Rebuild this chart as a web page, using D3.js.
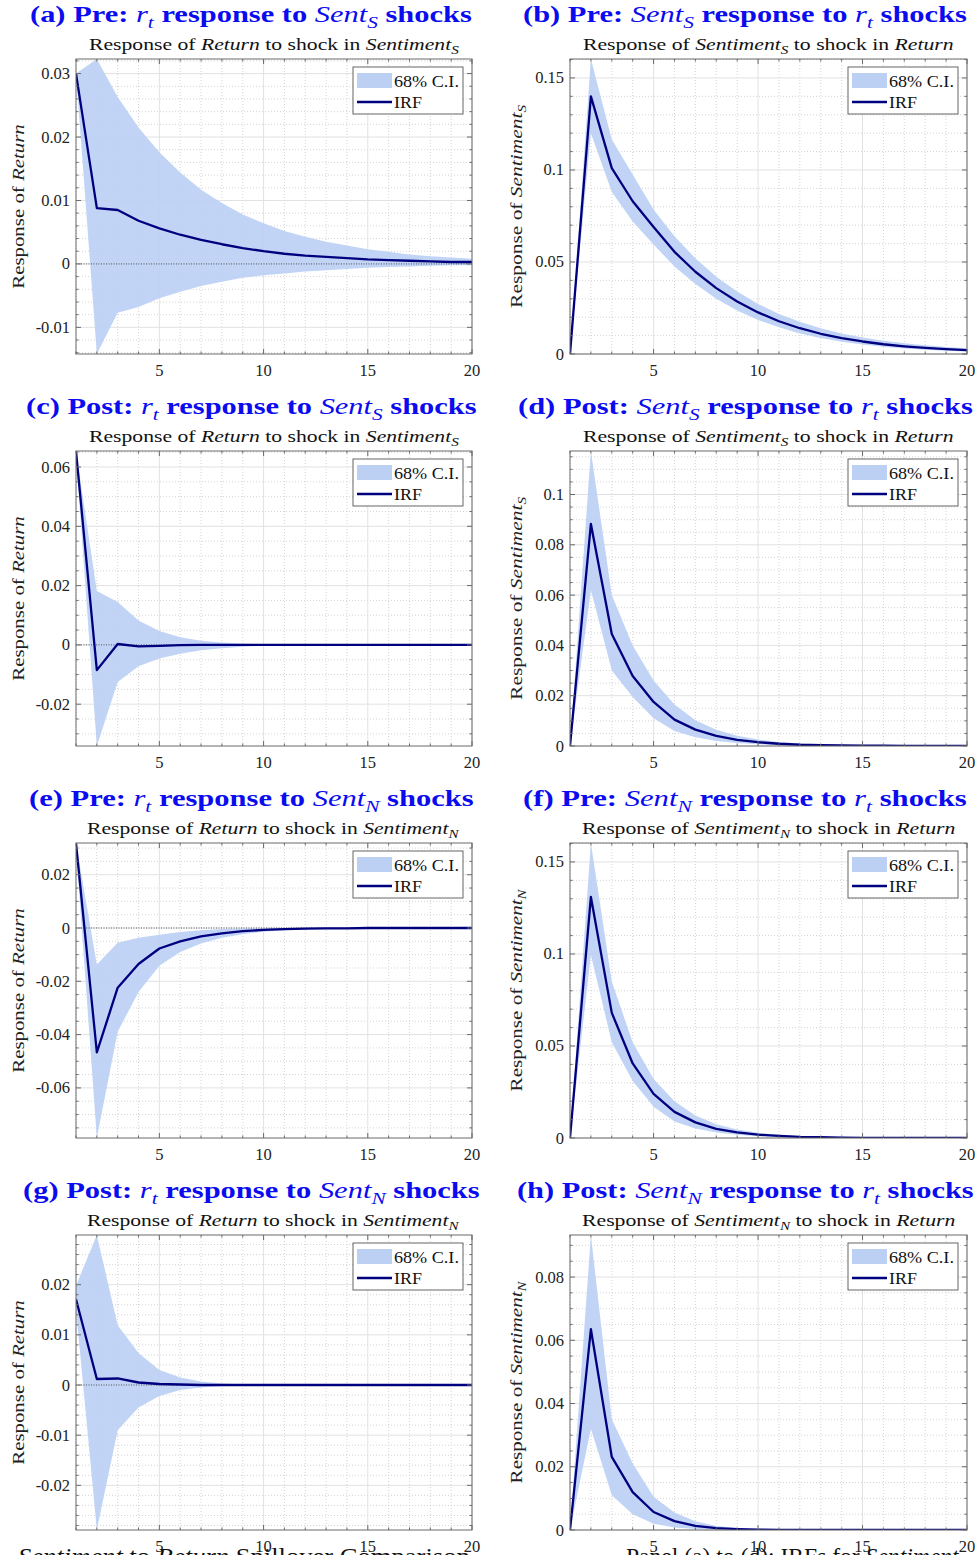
<!DOCTYPE html>
<html>
<head>
<meta charset="utf-8">
<script src="https://cdn.jsdelivr.net/npm/d3@7"></script>
<style>
  body { margin: 0; background: #fff; }
  svg { display: block; font-family: "Liberation Serif", "DejaVu Serif", serif; }
</style>
</head>
<body>
<svg id="fig" width="979" height="1555"></svg>
<script>
// horizons (periods after the shock)
const horizon = [1,2,3,4,5,6,7,8,9,10,11,12,13,14,15,16,17,18,19,20];
const xTicks = [5, 10, 15, 20];

// (a) Pre: r_t response to Sent_S shocks
const irfA = [0.0300,0.0088,0.0085,0.0068,0.0056,0.0046,0.0038,0.0031,0.0025,0.0020,0.0016,0.0013,0.0011,0.0009,0.0007,0.0006,0.0005,0.0004,0.0003,0.0003];
const hiA  = [0.0300,0.0323,0.0263,0.0215,0.0176,0.0144,0.0117,0.0096,0.0078,0.0064,0.0052,0.0043,0.0035,0.0029,0.0023,0.0019,0.0015,0.0012,0.0010,0.0008];
const loA  = [0.0300,-0.0142,-0.0077,-0.0068,-0.0054,-0.0044,-0.0035,-0.0028,-0.0022,-0.0018,-0.0015,-0.0012,-0.0010,-0.0008,-0.0006,-0.0005,-0.0004,-0.0003,-0.0002,-0.0002];
const yTicksA = [-0.01, 0, 0.01, 0.02, 0.03];

// (b) Pre: Sent_S response to r_t shocks
const irfB = [0,0.1400,0.1010,0.0830,0.0690,0.0555,0.0447,0.0358,0.0285,0.0226,0.0178,0.0140,0.0110,0.0086,0.0068,0.0053,0.0042,0.0033,0.0026,0.0021];
const hiB  = [0,0.1603,0.1165,0.0975,0.0785,0.0640,0.0520,0.0420,0.0340,0.0272,0.0218,0.0175,0.0140,0.0112,0.0090,0.0072,0.0058,0.0047,0.0038,0.0031];
const loB  = [0,0.1200,0.0880,0.0720,0.0595,0.0475,0.0380,0.0300,0.0237,0.0185,0.0145,0.0112,0.0087,0.0067,0.0051,0.0039,0.0030,0.0023,0.0017,0.0013];
const yTicksB = [0, 0.05, 0.1, 0.15];

// (c) Post: r_t response to Sent_S shocks
const irfC = [0.0654,-0.0085,0.0003,-0.0005,-0.0003,-0.0001,0,0,0,0,0,0,0,0,0,0,0,0,0,0];
const hiC  = [0.0654,0.0182,0.0145,0.0082,0.0047,0.0026,0.0014,0.0008,0.0004,0.0002,0.0001,0.0001,0,0,0,0,0,0,0,0];
const loC  = [0.0640,-0.0341,-0.0125,-0.0072,-0.0046,-0.0030,-0.0018,-0.0011,-0.0006,-0.0003,-0.0002,-0.0001,0,0,0,0,0,0,0,0];
const yTicksC = [-0.02, 0, 0.02, 0.04, 0.06];

// (d) Post: Sent_S response to r_t shocks
const irfD = [0,0.0883,0.0445,0.0278,0.0175,0.0105,0.0065,0.0040,0.0024,0.0015,0.0009,0.0005,0.0003,0.0002,0.0001,0.0001,0,0,0,0];
const hiD  = [0,0.1173,0.0600,0.0400,0.0260,0.0165,0.0102,0.0065,0.0041,0.0026,0.0016,0.0010,0.0006,0.0004,0.0002,0.0001,0.0001,0,0,0];
const loD  = [0,0.0620,0.0300,0.0195,0.0110,0.0060,0.0035,0.0020,0.0012,0.0007,0.0004,0.0002,0.0001,0.0001,0,0,0,0,0,0];
const yTicksD = [0, 0.02, 0.04, 0.06, 0.08, 0.1];

// (e) Pre: r_t response to Sent_N shocks
const irfE = [0.0319,-0.0467,-0.0224,-0.0135,-0.0077,-0.0050,-0.0031,-0.0020,-0.0012,-0.0007,-0.0004,-0.0002,-0.0001,-0.0001,0,0,0,0,0,0];
const hiE  = [0.0319,-0.0137,-0.0055,-0.0037,-0.0025,-0.0015,-0.0008,-0.0004,-0.0002,-0.0001,0,0,0,0,0,0,0,0,0,0];
const loE  = [0.0300,-0.0788,-0.0389,-0.0240,-0.0142,-0.0090,-0.0058,-0.0037,-0.0023,-0.0014,-0.0008,-0.0005,-0.0003,-0.0002,-0.0001,0,0,0,0,0];
const yTicksE = [-0.06, -0.04, -0.02, 0, 0.02];

// (f) Pre: Sent_N response to r_t shocks
const irfF = [0,0.1310,0.0680,0.0405,0.0240,0.0142,0.0085,0.0050,0.0030,0.0018,0.0011,0.0006,0.0004,0.0002,0.0001,0.0001,0,0,0,0];
const hiF  = [0,0.1603,0.0850,0.0520,0.0320,0.0200,0.0122,0.0075,0.0046,0.0028,0.0017,0.0010,0.0006,0.0004,0.0002,0.0001,0.0001,0,0,0];
const loF  = [0,0.0995,0.0520,0.0310,0.0170,0.0090,0.0052,0.0030,0.0017,0.0010,0.0005,0.0003,0.0002,0.0001,0,0,0,0,0,0];
const yTicksF = [0, 0.05, 0.1, 0.15];

// (g) Post: r_t response to Sent_N shocks
const irfG = [0.0171,0.0012,0.0013,0.0005,0.0002,0.0001,0,0,0,0,0,0,0,0,0,0,0,0,0,0];
const hiG  = [0.0198,0.0299,0.0119,0.0064,0.0030,0.0015,0.0007,0.0003,0.0001,0,0,0,0,0,0,0,0,0,0,0];
const loG  = [0.0150,-0.0289,-0.0090,-0.0045,-0.0022,-0.0010,-0.0005,-0.0002,-0.0001,0,0,0,0,0,0,0,0,0,0,0];
const yTicksG = [-0.02, -0.01, 0, 0.01, 0.02];

// (h) Post: Sent_N response to r_t shocks
const irfH = [0,0.0635,0.0231,0.0120,0.0057,0.0028,0.0013,0.0006,0.0003,0.0001,0,0,0,0,0,0,0,0,0,0];
const hiH  = [0,0.0933,0.0350,0.0210,0.0105,0.0055,0.0028,0.0013,0.0006,0.0003,0.0001,0,0,0,0,0,0,0,0,0];
const loH  = [0,0.0320,0.0110,0.0050,0.0020,0.0008,0.0003,0.0001,0,0,0,0,0,0,0,0,0,0,0,0];
const yTicksH = [0, 0.02, 0.04, 0.06, 0.08];

const blue = "#0b0bef";
const navy = "#00007f";
const bandFill = "#bcd0f4";

const colX = [[76, 472], [570, 967]];
const rowTop = [59, 451, 843, 1235];
const plotH = 295;

// title pieces
const retTitle = (tag, era, sub) => [
  {t: "(" + tag + ") " + era + ": ", b: 1}, {t: "r", i: 1}, {t: "t", i: 1, sub: 1},
  {t: " response to ", b: 1}, {t: "Sent", i: 1}, {t: sub, i: 1, sub: 1}, {t: " shocks", b: 1}];
const sentTitle = (tag, era, sub) => [
  {t: "(" + tag + ") " + era + ": ", b: 1}, {t: "Sent", i: 1}, {t: sub, i: 1, sub: 1},
  {t: " response to ", b: 1}, {t: "r", i: 1}, {t: "t", i: 1, sub: 1}, {t: " shocks", b: 1}];
const retSub = s => [{t: "Response of "}, {t: "Return", i: 1}, {t: " to shock in "}, {t: "Sentiment", i: 1}, {t: s, i: 1, sub: 1}];
const sentSub = s => [{t: "Response of "}, {t: "Sentiment", i: 1}, {t: s, i: 1, sub: 1}, {t: " to shock in "}, {t: "Return", i: 1}];
const retLab = [{t: "Response of "}, {t: "Return", i: 1}];
const sentLab = s => [{t: "Response of "}, {t: "Sentiment", i: 1}, {t: s, i: 1, sub: 1}];

const panels = [
  {col: 0, row: 0, irf: irfA, lo: loA, hi: hiA, ticks: yTicksA, minor: 0.002, zero: true,
   title: retTitle("a", "Pre", "S"), tx: [30, 472], sub: retSub("S"), sx: [89, 459], lab: retLab, lw: 165},
  {col: 1, row: 0, irf: irfB, lo: loB, hi: hiB, ticks: yTicksB, minor: 0.01, zero: false,
   title: sentTitle("b", "Pre", "S"), tx: [523, 967], sub: sentSub("S"), sx: [583, 954], lab: sentLab("S"), lw: 203},
  {col: 0, row: 1, irf: irfC, lo: loC, hi: hiC, ticks: yTicksC, minor: 0.005, zero: true,
   title: retTitle("c", "Post", "S"), tx: [26, 477], sub: retSub("S"), sx: [89, 459], lab: retLab, lw: 165},
  {col: 1, row: 1, irf: irfD, lo: loD, hi: hiD, ticks: yTicksD, minor: 0.005, zero: false,
   title: sentTitle("d", "Post", "S"), tx: [518, 973], sub: sentSub("S"), sx: [583, 954], lab: sentLab("S"), lw: 203},
  {col: 0, row: 2, irf: irfE, lo: loE, hi: hiE, ticks: yTicksE, minor: 0.005, zero: true,
   title: retTitle("e", "Pre", "N"), tx: [29, 474], sub: retSub("N"), sx: [87, 460], lab: retLab, lw: 165},
  {col: 1, row: 2, irf: irfF, lo: loF, hi: hiF, ticks: yTicksF, minor: 0.01, zero: false,
   title: sentTitle("f", "Pre", "N"), tx: [523, 967], sub: sentSub("N"), sx: [582, 956], lab: sentLab("N"), lw: 203},
  {col: 0, row: 3, irf: irfG, lo: loG, hi: hiG, ticks: yTicksG, minor: 0.002, zero: true,
   title: retTitle("g", "Post", "N"), tx: [23, 480], sub: retSub("N"), sx: [87, 460], lab: retLab, lw: 165},
  {col: 1, row: 3, irf: irfH, lo: loH, hi: hiH, ticks: yTicksH, minor: 0.005, zero: false,
   title: sentTitle("h", "Post", "N"), tx: [517, 974], sub: sentSub("N"), sx: [582, 956], lab: sentLab("N"), lw: 203}
];

const svg = d3.select("#fig");

// text with italic / bold / subscript runs
function rich(parent, parts, fs, fill) {
  const t = parent.append("text").attr("font-size", fs).attr("fill", fill || "#111");
  let down = false;
  parts.forEach(p => {
    const s = t.append("tspan").text(p.t);
    if (p.b) s.attr("font-weight", "bold");
    if (p.i) s.attr("font-style", "italic");
    if (p.sub) { s.attr("font-size", fs * 0.7).attr("dy", fs * 0.24); down = true; }
    else if (down) { s.attr("dy", -fs * 0.24); down = false; }
  });
  return t;
}
function fitH(t, x0, x1, y) {
  const w = t.node().getBBox().width;
  t.attr("transform", `translate(${x0},${y}) scale(${(x1 - x0) / w},1)`);
}
const fmt = v => (v < 0 ? "-" : "") + String(+Math.abs(v).toFixed(4));

panels.forEach((p, k) => {
  const [x0, x1] = colX[p.col];
  const y0 = rowTop[p.row], y1 = y0 + plotH;
  const all = p.irf.concat(p.lo, p.hi);
  const x = d3.scaleLinear().domain([1, 20]).range([x0, x1]);
  const y = d3.scaleLinear().domain(d3.extent(all)).range([y1, y0]);
  const g = svg.append("g");

  g.append("clipPath").attr("id", "clip" + k)
    .append("rect").attr("x", x0).attr("y", y0).attr("width", x1 - x0).attr("height", plotH);

  // grid
  const dom = y.domain();
  const yMinor = d3.range(Math.ceil(dom[0] / p.minor - 1e-6), Math.floor(dom[1] / p.minor + 1e-6) + 1)
    .map(i => i * p.minor)
    .filter(v => !p.ticks.some(t => Math.abs(t - v) < 1e-9));
  const xMinor = horizon.filter(h => !xTicks.includes(h));
  const grid = g.append("g");
  grid.selectAll(".ym").data(yMinor).join("line")
    .attr("x1", x0).attr("x2", x1).attr("y1", d => y(d)).attr("y2", d => y(d))
    .attr("stroke", "#c9c9c9").attr("stroke-width", 0.8).attr("stroke-dasharray", "1,2");
  grid.selectAll(".xm").data(xMinor).join("line")
    .attr("y1", y0).attr("y2", y1).attr("x1", d => x(d)).attr("x2", d => x(d))
    .attr("stroke", "#c9c9c9").attr("stroke-width", 0.8).attr("stroke-dasharray", "1,2");
  grid.selectAll(".yM").data(p.ticks).join("line")
    .attr("x1", x0).attr("x2", x1).attr("y1", d => y(d)).attr("y2", d => y(d))
    .attr("stroke", "#e2e2e2").attr("stroke-width", 1);
  grid.selectAll(".xM").data(xTicks).join("line")
    .attr("y1", y0).attr("y2", y1).attr("x1", d => x(d)).attr("x2", d => x(d))
    .attr("stroke", "#e2e2e2").attr("stroke-width", 1);

  const plot = g.append("g").attr("clip-path", `url(#clip${k})`);
  const area = d3.area().x((d, i) => x(horizon[i])).y0((d, i) => y(p.lo[i])).y1((d, i) => y(p.hi[i]));
  plot.append("path").datum(p.irf).attr("d", area).attr("fill", bandFill).attr("opacity", 0.92);

  if (p.zero) {
    plot.append("line").attr("x1", x0).attr("x2", x1).attr("y1", y(0)).attr("y2", y(0))
      .attr("stroke", "#333").attr("stroke-width", 0.8).attr("stroke-dasharray", "1,1.5");
  }
  const line = d3.line().x((d, i) => x(horizon[i])).y(d => y(d));
  plot.append("path").datum(p.irf).attr("d", line).attr("fill", "none")
    .attr("stroke", navy).attr("stroke-width", 2.3).attr("stroke-linejoin", "round");

  // box + inward ticks on all sides
  const ax = g.append("g").attr("stroke", "#6a6a6a").attr("stroke-width", 1);
  ax.append("rect").attr("x", x0).attr("y", y0).attr("width", x1 - x0).attr("height", plotH).attr("fill", "none");
  const tk = (xa, ya, xb, yb) => ax.append("line").attr("x1", xa).attr("y1", ya).attr("x2", xb).attr("y2", yb);
  p.ticks.forEach(v => { tk(x0, y(v), x0 + 5, y(v)); tk(x1, y(v), x1 - 5, y(v)); });
  yMinor.forEach(v => { tk(x0, y(v), x0 + 2.5, y(v)); tk(x1, y(v), x1 - 2.5, y(v)); });
  xTicks.forEach(v => { tk(x(v), y1, x(v), y1 - 5); tk(x(v), y0, x(v), y0 + 5); });
  xMinor.forEach(v => { tk(x(v), y1, x(v), y1 - 2.5); tk(x(v), y0, x(v), y0 + 2.5); });

  // tick labels
  g.selectAll(".xl").data(xTicks).join("text")
    .attr("x", d => x(d)).attr("y", y1 + 22).attr("text-anchor", "middle")
    .attr("font-size", 16.5).attr("fill", "#222").text(d => d);
  g.selectAll(".yl").data(p.ticks).join("text")
    .attr("x", x0 - 6).attr("y", d => y(d) + 5.5).attr("text-anchor", "end")
    .attr("font-size", 16.5).attr("fill", "#222").text(fmt);

  // titles
  fitH(rich(svg, p.title, 23, blue), p.tx[0], p.tx[1], y0 - 37);
  fitH(rich(svg, p.sub, 17.5, "#111"), p.sx[0], p.sx[1], y0 - 9);

  // y label
  const lab = rich(svg, p.lab, 17.5, "#222").attr("text-anchor", "middle");
  const lw = lab.node().getBBox().width;
  const lx = p.col === 0 ? 24 : 522;
  lab.attr("transform", `translate(${lx},${(y0 + y1) / 2}) rotate(-90) scale(${p.lw / lw},1)`);

  // legend
  const lgx = x1 - 119, lgy = y0 + 8;
  const lg = svg.append("g");
  lg.append("rect").attr("x", lgx).attr("y", lgy).attr("width", 110).attr("height", 47)
    .attr("fill", "#fff").attr("stroke", "#555").attr("stroke-width", 0.9);
  lg.append("rect").attr("x", lgx + 4).attr("y", lgy + 6).attr("width", 35).attr("height", 15).attr("fill", bandFill);
  lg.append("line").attr("x1", lgx + 4).attr("x2", lgx + 39).attr("y1", lgy + 35).attr("y2", lgy + 35)
    .attr("stroke", navy).attr("stroke-width", 2.3);
  fitH(rich(lg, [{t: "68% C.I."}], 17, "#111"), lgx + 41, lgx + 106, lgy + 20);
  fitH(rich(lg, [{t: "IRF"}], 17, "#111"), lgx + 41, lgx + 69, lgy + 41);
});

// caption text cut off at the bottom edge of the page
fitH(rich(svg, [{t: "Sentiment", i: 1}, {t: " to "}, {t: "Return", i: 1}, {t: " Spillover Comparison"}], 24, "#111"), 18, 470, 1564);
fitH(rich(svg, [{t: "Panel (a) to (d): IRFs for "}, {t: "Sentiment", i: 1}], 24, "#111"), 626, 960, 1564);
</script>
</body>
</html>
